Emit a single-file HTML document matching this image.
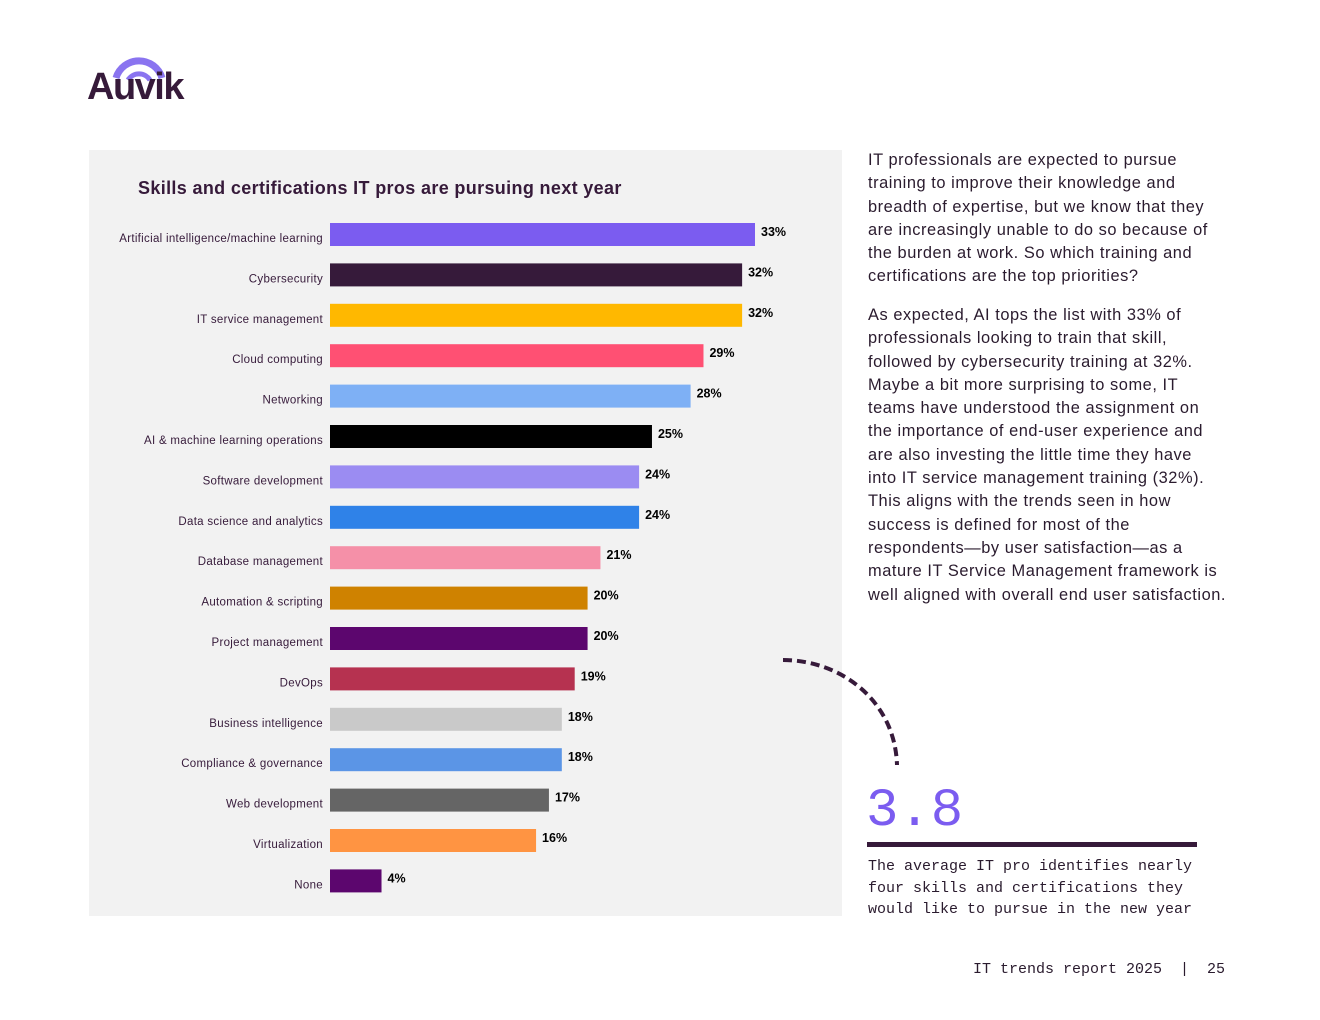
<!DOCTYPE html>
<html><head><meta charset="utf-8"><style>
body{margin:0;width:1320px;height:1020px;background:#fff;position:relative;font-family:"Liberation Sans",sans-serif;overflow:hidden}
.abs{position:absolute}
.para{left:868px;width:380px;font-size:16.4px;letter-spacing:0.55px;line-height:23.3px;color:#2a1b2e;white-space:nowrap}
.mono{font-family:"Liberation Mono",monospace;color:#2a1b2e}
</style></head><body>
<div class="abs" style="left:86px;top:50px;width:110px;height:60px">
<svg width="110" height="60"><path d="M30 28 A24 24 0 0 1 76 28" fill="none" stroke="#8a74f0" stroke-width="7"/><path d="M42 30 A13 13 0 0 1 64 30" fill="none" stroke="#8a74f0" stroke-width="5"/></svg>
<div class="abs" style="left:1px;top:16px;font-size:38px;font-weight:bold;color:#361a3a;letter-spacing:-1.5px">Auvik</div>
</div>
<svg class="abs" style="left:0;top:0" width="1320" height="1020" id="chart">
<rect x="89" y="150" width="753" height="766" fill="#f2f2f2"/>
<text x="138" y="194" font-size="18" font-weight="bold" letter-spacing="0.35" fill="#361a3a">Skills and certifications IT pros are pursuing next year</text>
<g id="bars"></g>
<path d="M783 660 C840 660 895 700 897 765" fill="none" stroke="#361a3a" stroke-width="4" stroke-dasharray="9 5"/>
</svg>
<script>
const categories=["Artificial intelligence/machine learning","Cybersecurity","IT service management","Cloud computing","Networking","AI & machine learning operations","Software development","Data science and analytics","Database management","Automation & scripting","Project management","DevOps","Business intelligence","Compliance & governance","Web development","Virtualization","None"];
const values=[33,32,32,29,28,25,24,24,21,20,20,19,18,18,17,16,4];
const colors=["#7b5cf0","#361a3a","#ffb800","#ff5073","#7eb0f5","#000000","#9b8cf2","#2f82e8","#f590a8","#cf8200","#5c066e","#b63250","#c9c9c9","#5b95e6","#656565","#ff9442","#5c066e"];
const g=document.getElementById('bars');const ns="http://www.w3.org/2000/svg";
const x0=330,pxPer=425/33,y0=223,step=40.4,bh=23;
const xs=v=>v*pxPer;const ys=i=>y0+i*step;
categories.forEach((c,i)=>{
 const r=document.createElementNS(ns,'rect');
 r.setAttribute('x',x0);r.setAttribute('y',ys(i));r.setAttribute('width',xs(values[i]));r.setAttribute('height',bh);r.setAttribute('fill',colors[i]);
 
 
 g.appendChild(r);
 const t=document.createElementNS(ns,'text');
 t.setAttribute('x',323);t.setAttribute('y',ys(i)+19);t.setAttribute('text-anchor','end');t.setAttribute('font-size','11.5');t.setAttribute('letter-spacing','0.3');t.setAttribute('fill','#361a3a');t.textContent=c;
 
 
 g.appendChild(t);
 const v=document.createElementNS(ns,'text');
 v.setAttribute('x',x0+xs(values[i])+6);v.setAttribute('y',ys(i)+13);v.setAttribute('font-size','12.5');v.setAttribute('font-weight','bold');v.setAttribute('fill','#000');v.textContent=values[i]+'%';
 
 
 g.appendChild(v);
});
</script>
<div class="abs para" style="top:149px">IT professionals are expected to pursue<br>training to improve their knowledge and<br>breadth of expertise, but we know that they<br>are increasingly unable to do so because of<br>the burden at work. So which training and<br>certifications are the top priorities?</div>
<div class="abs para" style="top:304px">As expected, AI tops the list with 33% of<br>professionals looking to train that skill,<br>followed by cybersecurity training at 32%.<br>Maybe a bit more surprising to some, IT<br>teams have understood the assignment on<br>the importance of end-user experience and<br>are also investing the little time they have<br>into IT service management training (32%).<br>This aligns with the trends seen in how<br>success is defined for most of the<br>respondents—by user satisfaction—as a<br>mature IT Service Management framework is<br>well aligned with overall end user satisfaction.</div>
<div class="abs mono" style="left:866px;top:781px;font-size:54px;color:#7b5cf0;line-height:62px">3.8</div>
<div class="abs" style="left:867px;top:842px;width:330px;height:5px;background:#361a3a"></div>
<div class="abs mono" style="left:868px;top:856px;font-size:15px;line-height:21.5px">The average IT pro identifies nearly<br>four skills and certifications they<br>would like to pursue in the new year</div>
<div class="abs mono" style="left:973px;top:961px;font-size:15px;white-space:pre">IT trends report 2025  |  25</div>
</body></html>
